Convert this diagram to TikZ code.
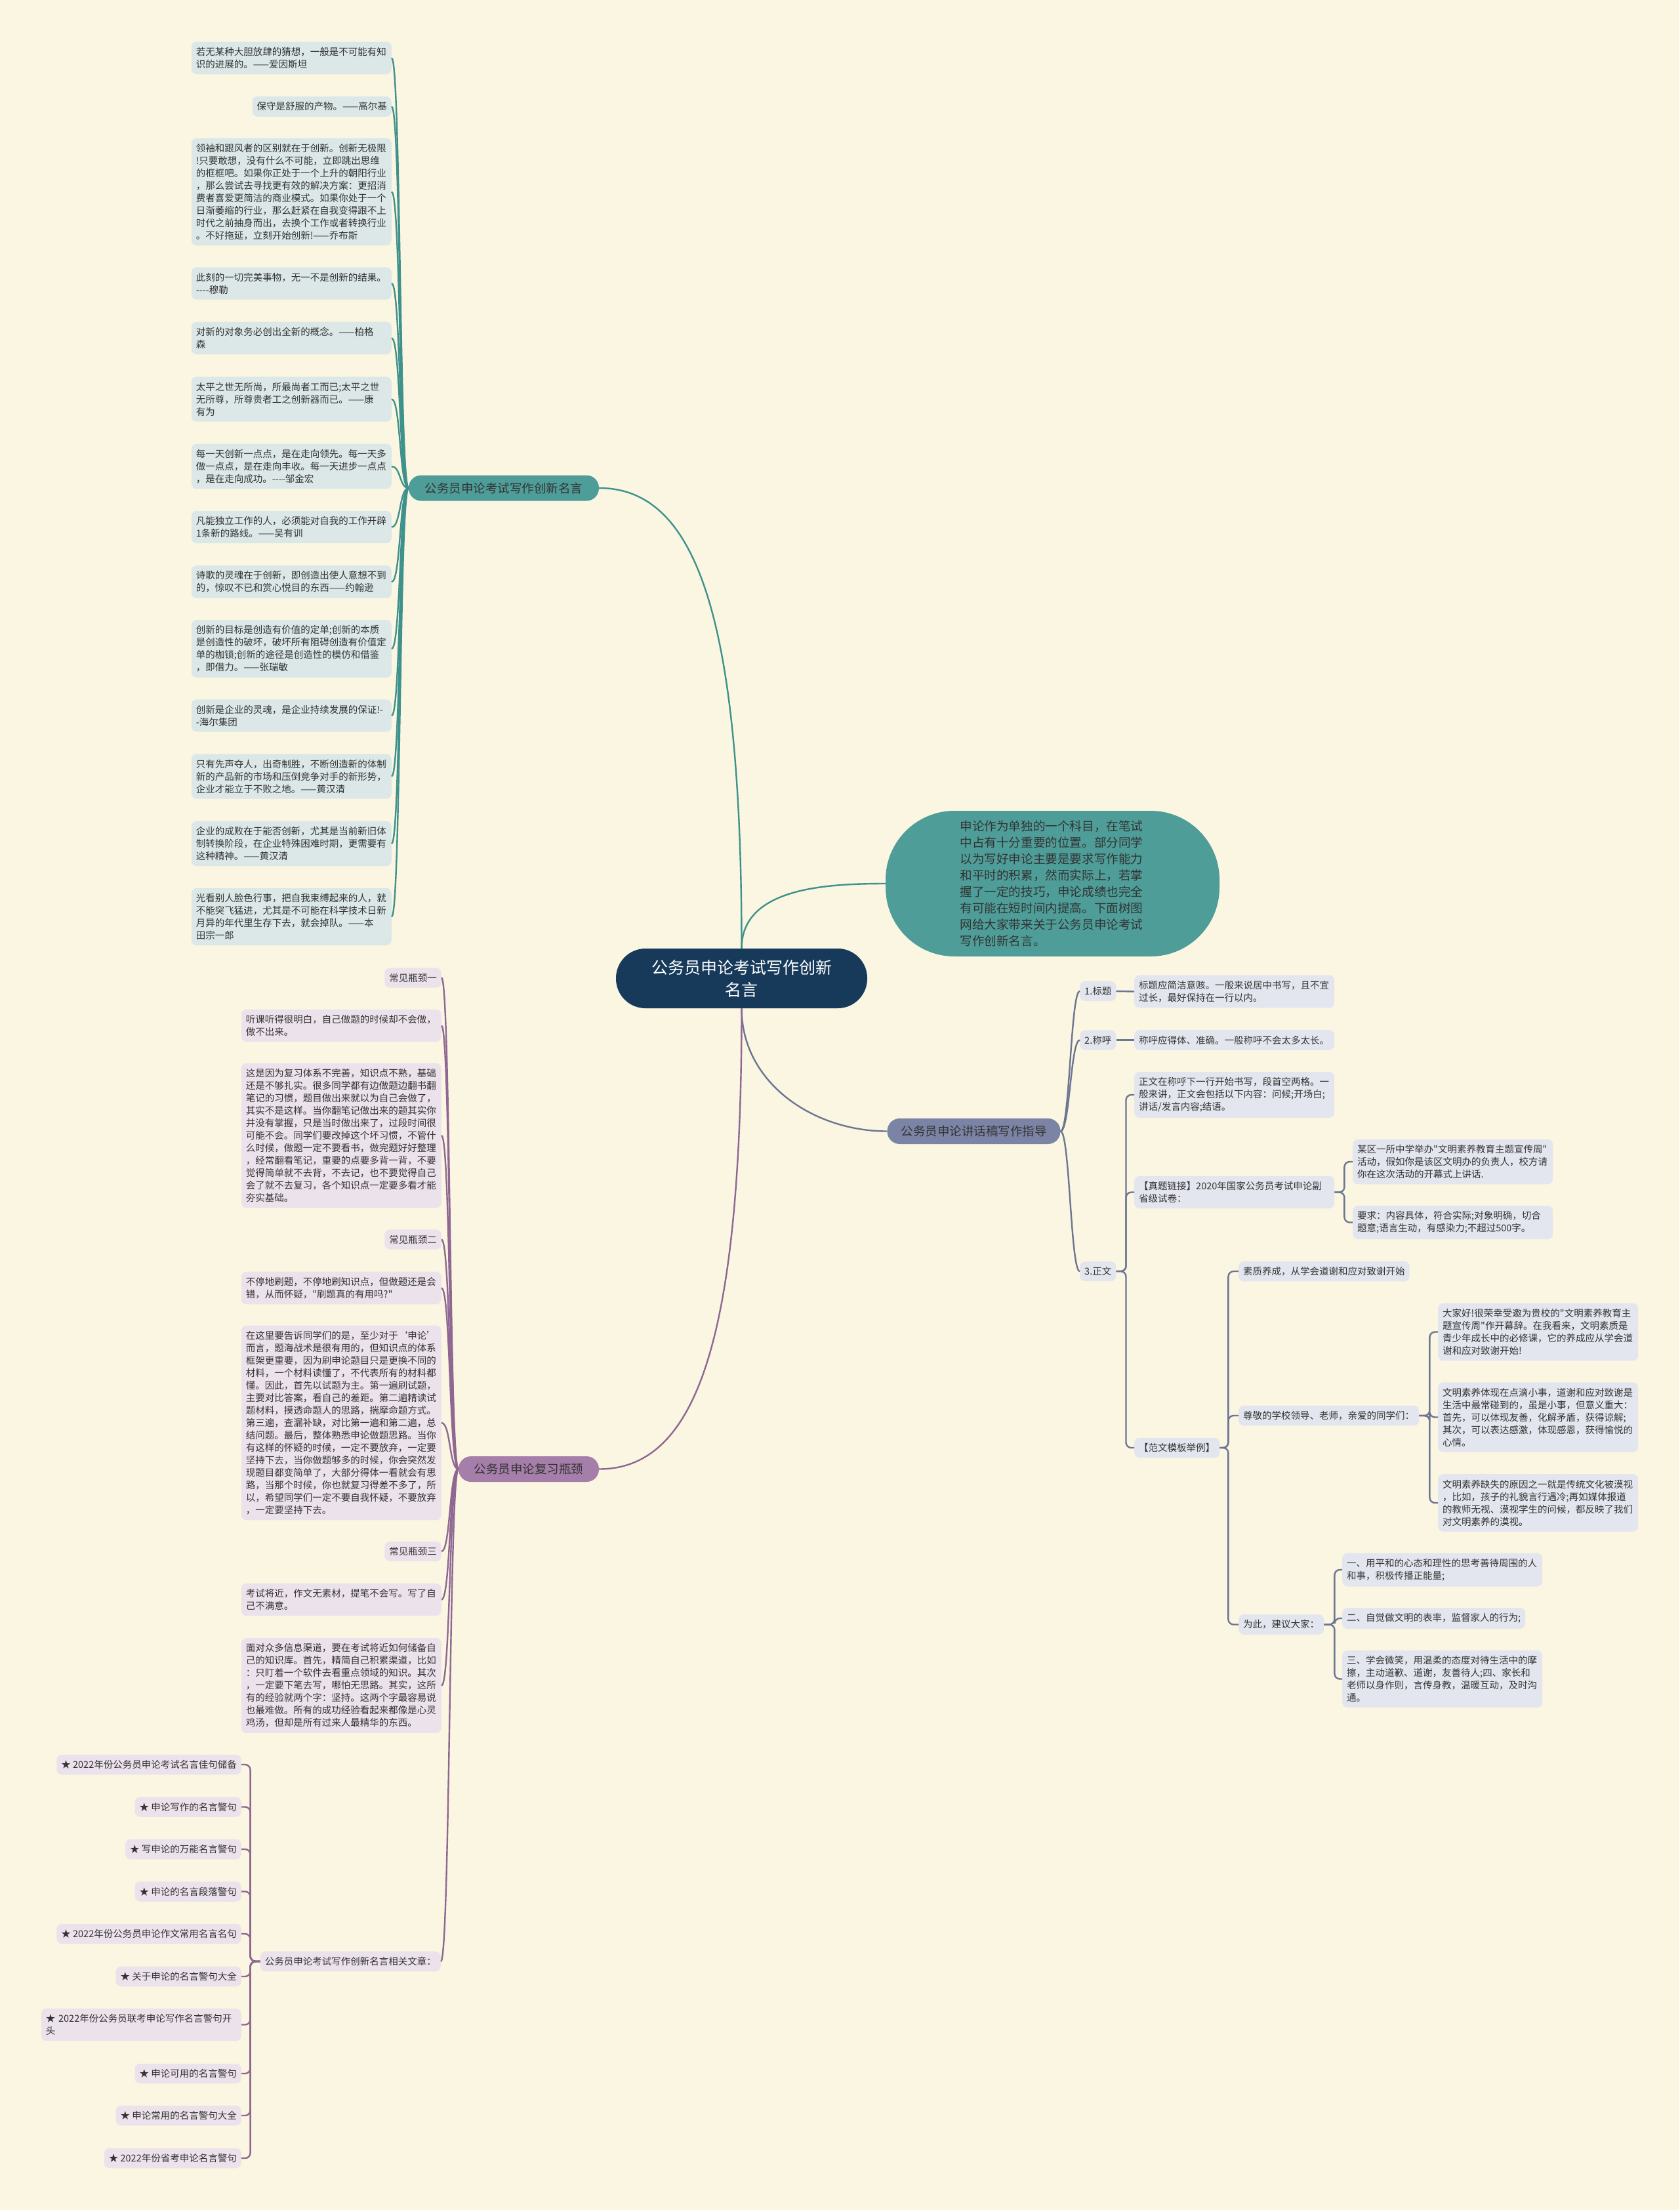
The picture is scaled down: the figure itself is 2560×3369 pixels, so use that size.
\documentclass[tikz,border=0pt]{standalone}
\usepackage{fontspec}
\newfontfamily\mapfont{Noto Sans CJK SC}
\usepackage{tikz}
\definecolor{mapbg}{HTML}{FBF6E1}
\definecolor{mapnavy}{HTML}{173A5B}
\definecolor{mapteal}{HTML}{4E9D98}
\definecolor{maptealline}{HTML}{3F918C}
\definecolor{maptealpale}{HTML}{DCE8E8}
\definecolor{mapslate}{HTML}{7B84A5}
\definecolor{mapslateline}{HTML}{6C7592}
\definecolor{mapslatepale}{HTML}{E3E6EE}
\definecolor{mapplum}{HTML}{A67EAA}
\definecolor{mapplumline}{HTML}{8E6893}
\definecolor{mapplumpale}{HTML}{ECE2EC}
\definecolor{mapink}{HTML}{333333}
\newcommand{\leaffont}{\mapfont\fontsize{14.5}{19}\selectfont}

\begin{document}
\begin{tikzpicture}[x=1pt,y=-1pt,
  leaf/.style={rounded corners=8pt,inner xsep=7pt,inner ysep=8.5pt,align=left,font=\leaffont,text=mapink},
  wide/.style={text width=291pt},
  tleaf/.style={leaf,fill=maptealpale,anchor=east},
  pleaf/.style={leaf,fill=mapplumpale,anchor=east},
  sleaf/.style={leaf,fill=mapslatepale,anchor=west},
  branch/.style={rounded corners=19pt,minimum height=39pt,font=\mapfont\fontsize{18.5}{22}\selectfont,text=mapink},
  tline/.style={draw=maptealline,line width=2.4pt},
  pline/.style={draw=mapplumline,line width=2.4pt},
  sline/.style={draw=mapslateline,line width=2.4pt},
  elbow/.style={sline,rounded corners=8pt}
]
\fill[mapbg] (0,0) rectangle (2560,3369);
\useasboundingbox (0,0) rectangle (2560,3369);

\node[fill=mapnavy,text=white,rounded corners=45pt,minimum width=383pt,minimum height=91pt,align=center,font=\mapfont\fontsize{25}{34}\selectfont] (root) at (1130.5,1491.5) {公务员申论考试写作创新\\名言};
\node[fill=mapteal,rounded corners=105pt,minimum width=509pt,minimum height=222pt,text width=282pt,align=left,font=\mapfont\fontsize{18.6}{25}\selectfont,text=mapink] (intro) at (1604.5,1347) {申论作为单独的一个科目，在笔试\\中占有十分重要的位置。部分同学\\以为写好申论主要是要求写作能力\\和平时的积累，然而实际上，若掌\\握了一定的技巧，申论成绩也完全\\有可能在短时间内提高。下面树图\\网给大家带来关于公务员申论考试\\写作创新名言。};
\node[branch,fill=mapteal,minimum width=290pt] (quote) at (768,744) {公务员申论考试写作创新名言};
\node[branch,fill=mapslate,minimum width=264pt] (speech) at (1484.5,1724.5) {公务员申论讲话稿写作指导};
\node[branch,fill=mapplum,minimum width=214pt] (review) at (806,2239.5) {公务员申论复习瓶颈};

\draw[tline] (root.north) .. controls +(0,-500) and +(150,0) .. (quote.east);
\draw[tline] (root.north) .. controls +(0,-92) and +(-92,0) .. (intro.west);
\draw[sline] (root.south) .. controls +(0,113) and +(-113,0) .. (speech.west);
\draw[pline] (root.south) .. controls +(0,500) and +(150,0) .. (review.east);

\node[tleaf,wide] (q1) at (597,88.5) {若无某种大胆放肆的猜想，一般是不可能有知\\识的进展的。——爱因斯坦};
\node[tleaf] (q2) at (597,162.5) {保守是舒服的产物。——高尔基};
\node[tleaf,wide] (q3) at (597,292.5) {领袖和跟风者的区别就在于创新。创新无极限\\!只要敢想，没有什么不可能，立即跳出思维\\的框框吧。如果你正处于一个上升的朝阳行业\\，那么尝试去寻找更有效的解决方案：更招消\\费者喜爱更简洁的商业模式。如果你处于一个\\日渐萎缩的行业，那么赶紧在自我变得跟不上\\时代之前抽身而出，去换个工作或者转换行业\\。不好拖延，立刻开始创新!——乔布斯};
\node[tleaf,wide] (q4) at (597,432) {此刻的一切完美事物，无一不是创新的结果。\\----穆勒};
\node[tleaf,wide] (q5) at (597,515.5) {对新的对象务必创出全新的概念。——柏格\\森};
\node[tleaf,wide] (q6) at (597,608.5) {太平之世无所尚，所最尚者工而已;太平之世\\无所尊，所尊贵者工之创新器而已。——康\\有为};
\node[tleaf,wide] (q7) at (597,711) {每一天创新一点点，是在走向领先。每一天多\\做一点点，是在走向丰收。每一天进步一点点\\，是在走向成功。----邹金宏};
\node[tleaf,wide] (q8) at (597,803.5) {凡能独立工作的人，必须能对自我的工作开辟\\1条新的路线。——吴有训};
\node[tleaf,wide] (q9) at (597,887) {诗歌的灵魂在于创新，即创造出使人意想不到\\的，惊叹不已和赏心悦目的东西——约翰逊};
\node[tleaf,wide] (q10) at (597,989) {创新的目标是创造有价值的定单;创新的本质\\是创造性的破坏，破坏所有阻碍创造有价值定\\单的枷锁;创新的途径是创造性的模仿和借鉴\\，即借力。——张瑞敏};
\node[tleaf,wide] (q11) at (597,1091) {创新是企业的灵魂，是企业持续发展的保证!-\\-海尔集团};
\node[tleaf,wide] (q12) at (597,1183.5) {只有先声夺人，出奇制胜，不断创造新的体制\\新的产品新的市场和压倒竞争对手的新形势，\\企业才能立于不败之地。——黄汉清};
\node[tleaf,wide] (q13) at (597,1286) {企业的成败在于能否创新，尤其是当前新旧体\\制转换阶段，在企业特殊困难时期，更需要有\\这种精神。——黄汉清};
\node[tleaf,wide] (q14) at (597,1397.5) {光看别人脸色行事，把自我束缚起来的人，就\\不能突飞猛进，尤其是不可能在科学技术日新\\月异的年代里生存下去，就会掉队。——本\\田宗一郎};

\draw[tline] (quote.west) .. controls +(-14,0) and +(14,0) .. (q1.east);
\draw[tline] (quote.west) .. controls +(-14,0) and +(14,0) .. (q2.east);
\draw[tline] (quote.west) .. controls +(-14,0) and +(14,0) .. (q3.east);
\draw[tline] (quote.west) .. controls +(-14,0) and +(14,0) .. (q4.east);
\draw[tline] (quote.west) .. controls +(-14,0) and +(14,0) .. (q5.east);
\draw[tline] (quote.west) .. controls +(-14,0) and +(14,0) .. (q6.east);
\draw[tline] (quote.west) .. controls +(-14,0) and +(14,0) .. (q7.east);
\draw[tline] (quote.west) .. controls +(-14,0) and +(14,0) .. (q8.east);
\draw[tline] (quote.west) .. controls +(-14,0) and +(14,0) .. (q9.east);
\draw[tline] (quote.west) .. controls +(-14,0) and +(14,0) .. (q10.east);
\draw[tline] (quote.west) .. controls +(-14,0) and +(14,0) .. (q11.east);
\draw[tline] (quote.west) .. controls +(-14,0) and +(14,0) .. (q12.east);
\draw[tline] (quote.west) .. controls +(-14,0) and +(14,0) .. (q13.east);
\draw[tline] (quote.west) .. controls +(-14,0) and +(14,0) .. (q14.east);

\node[sleaf] (s1) at (1646,1511) {1.标题};
\node[sleaf,wide] (s1a) at (1729,1511.5) {标题应简洁意赅。一般来说居中书写，且不宜\\过长，最好保持在一行以内。};
\node[sleaf] (s2) at (1646,1585.5) {2.称呼};
\node[sleaf,wide] (s2a) at (1729,1585.5) {称呼应得体、准确。一般称呼不会太多太长。};
\node[sleaf] (s3) at (1646,1938) {3.正文};
\node[sleaf,wide] (z1) at (1729,1669) {正文在称呼下一行开始书写，段首空两格。一\\般来讲，正文会包括以下内容：问候;开场白;\\讲话/发言内容;结语。};
\node[sleaf,wide] (z2) at (1729,1817.5) {【真题链接】2020年国家公务员考试申论副\\省级试卷：};
\node[sleaf,wide] (z2a) at (2062,1771) {某区一所中学举办"文明素养教育主题宣传周"\\活动，假如你是该区文明办的负责人，校方请\\你在这次活动的开幕式上讲话.};
\node[sleaf,wide] (z2b) at (2062,1863.5) {要求：内容具体，符合实际;对象明确，切合\\题意;语言生动，有感染力;不超过500字。};
\node[sleaf] (z3) at (1729,2207) {【范文模板举例】};
\node[sleaf] (f1) at (1888,1938) {素质养成，从学会道谢和应对致谢开始};
\node[sleaf] (f2) at (1888,2158) {尊敬的学校领导、老师，亲爱的同学们：};
\node[sleaf,wide] (g1) at (2192,2030.5) {大家好!很荣幸受邀为贵校的"文明素养教育主\\题宣传周"作开幕辞。在我看来，文明素质是\\青少年成长中的必修课，它的养成应从学会道\\谢和应对致谢开始!};
\node[sleaf,wide] (g2) at (2192,2160.5) {文明素养体现在点滴小事，道谢和应对致谢是\\生活中最常碰到的，虽是小事，但意义重大：\\首先，可以体现友善，化解矛盾，获得谅解;\\其次，可以表达感激，体现感恩，获得愉悦的\\心情。};
\node[sleaf,wide] (g3) at (2192,2291) {文明素养缺失的原因之一就是传统文化被漠视\\，比如，孩子的礼貌言行遇冷;再如媒体报道\\的教师无视、漠视学生的问候，都反映了我们\\对文明素养的漠视。};
\node[sleaf] (f3) at (1888,2476.5) {为此，建议大家：};
\node[sleaf,wide] (h1) at (2046,2393) {一、用平和的心态和理性的思考善待周围的人\\和事，积极传播正能量;};
\node[sleaf] (h2) at (2046,2467) {二、自觉做文明的表率，监督家人的行为;};
\node[sleaf,wide] (h3) at (2046,2559.5) {三、学会微笑，用温柔的态度对待生活中的摩\\擦，主动道歉、道谢，友善待人;四、家长和\\老师以身作则，言传身教，温暖互动，及时沟\\通。};

\draw[sline] (speech.east) .. controls +(14,0) and +(-14,0) .. (s1.west);
\draw[sline] (speech.east) .. controls +(14,0) and +(-14,0) .. (s2.west);
\draw[sline] (speech.east) .. controls +(14,0) and +(-14,0) .. (s3.west);
\draw[sline] (s1.east) -- (s1a.west);
\draw[sline] (s2.east) -- (s2a.west);
\draw[elbow] (s3.east) -- ++(15,0) |- (z1.west);
\draw[elbow] (s3.east) -- ++(15,0) |- (z2.west);
\draw[elbow] (s3.east) -- ++(15,0) |- (z3.west);
\draw[elbow] (z2.east) -- ++(15,0) |- (z2a.west);
\draw[elbow] (z2.east) -- ++(15,0) |- (z2b.west);
\draw[elbow] (z3.east) -- ++(13,0) |- (f1.west);
\draw[elbow] (z3.east) -- ++(13,0) |- (f2.west);
\draw[elbow] (z3.east) -- ++(13,0) |- (f3.west);
\draw[elbow] (f2.east) -- ++(16,0) |- (g1.west);
\draw[elbow] (f2.east) -- ++(16,0) |- (g2.west);
\draw[elbow] (f2.east) -- ++(16,0) |- (g3.west);
\draw[elbow] (f3.east) -- ++(16,0) |- (h1.west);
\draw[elbow] (f3.east) -- ++(16,0) |- (h2.west);
\draw[elbow] (f3.east) -- ++(16,0) |- (h3.west);

\node[pleaf] (p1) at (673,1490.5) {常见瓶颈一};
\node[pleaf,wide] (p2) at (673,1563.5) {听课听得很明白，自己做题的时候却不会做，\\做不出来。};
\node[pleaf,wide] (p3) at (673,1731) {这是因为复习体系不完善，知识点不熟，基础\\还是不够扎实。很多同学都有边做题边翻书翻\\笔记的习惯，题目做出来就以为自己会做了，\\其实不是这样。当你翻笔记做出来的题其实你\\并没有掌握，只是当时做出来了，过段时间很\\可能不会。同学们要改掉这个坏习惯，不管什\\么时候，做题一定不要看书，做完题好好整理\\，经常翻看笔记，重要的点要多背一背，不要\\觉得简单就不去背，不去记，也不要觉得自己\\会了就不去复习，各个知识点一定要多看才能\\夯实基础。};
\node[pleaf] (p4) at (673,1889.5) {常见瓶颈二};
\node[pleaf,wide] (p5) at (673,1963.5) {不停地刷题，不停地刷知识点，但做题还是会\\错，从而怀疑，"刷题真的有用吗?"};
\node[pleaf,wide] (p6) at (673,2169) {在这里要告诉同学们的是，至少对于‘申论’\\而言，题海战术是很有用的，但知识点的体系\\框架更重要，因为刷申论题目只是更换不同的\\材料，一个材料读懂了，不代表所有的材料都\\懂。因此，首先以试题为主。第一遍刷试题，\\主要对比答案，看自己的差距。第二遍精读试\\题材料，摸透命题人的思路，揣摩命题方式。\\第三遍，查漏补缺，对比第一遍和第二遍，总\\结问题。最后，整体熟悉申论做题思路。当你\\有这样的怀疑的时候，一定不要放弃，一定要\\坚持下去，当你做题够多的时候，你会突然发\\现题目都变简单了，大部分得体一看就会有思\\路，当那个时候，你也就复习得差不多了，所\\以，希望同学们一定不要自我怀疑，不要放弃\\，一定要坚持下去。};
\node[pleaf] (p7) at (673,2365) {常见瓶颈三};
\node[pleaf,wide] (p8) at (673,2438.5) {考试将近，作文无素材，提笔不会写。写了自\\己不满意。};
\node[pleaf,wide] (p9) at (673,2569.5) {面对众多信息渠道，要在考试将近如何储备自\\己的知识库。首先，精简自己积累渠道，比如\\：只盯着一个软件去看重点领域的知识。其次\\，一定要下笔去写，哪怕无思路。其实，这所\\有的经验就两个字：坚持。这两个字最容易说\\也最难做。所有的成功经验看起来都像是心灵\\鸡汤，但却是所有过来人最精华的东西。};
\node[pleaf] (rel) at (672,2990) {公务员申论考试写作创新名言相关文章：};
\node[pleaf] (a1) at (368,2690) {★ 2022年份公务员申论考试名言佳句储备};
\node[pleaf] (a2) at (368,2754.5) {★ 申论写作的名言警句};
\node[pleaf] (a3) at (368,2819) {★ 写申论的万能名言警句};
\node[pleaf] (a4) at (368,2883.5) {★ 申论的名言段落警句};
\node[pleaf] (a5) at (368,2948) {★ 2022年份公务员申论作文常用名言名句};
\node[pleaf] (a6) at (368,3013) {★ 关于申论的名言警句大全};
\node[pleaf,wide] (a7) at (368,3086.5) {★ 2022年份公务员联考申论写作名言警句开\\头};
\node[pleaf] (a8) at (368,3161) {★ 申论可用的名言警句};
\node[pleaf] (a9) at (368,3225) {★ 申论常用的名言警句大全};
\node[pleaf] (a10) at (368,3290) {★ 2022年份省考申论名言警句};

\draw[pline] (review.west) .. controls +(-14,0) and +(14,0) .. (p1.east);
\draw[pline] (review.west) .. controls +(-14,0) and +(14,0) .. (p2.east);
\draw[pline] (review.west) .. controls +(-14,0) and +(14,0) .. (p3.east);
\draw[pline] (review.west) .. controls +(-14,0) and +(14,0) .. (p4.east);
\draw[pline] (review.west) .. controls +(-14,0) and +(14,0) .. (p5.east);
\draw[pline] (review.west) .. controls +(-14,0) and +(14,0) .. (p6.east);
\draw[pline] (review.west) .. controls +(-14,0) and +(14,0) .. (p7.east);
\draw[pline] (review.west) .. controls +(-14,0) and +(14,0) .. (p8.east);
\draw[pline] (review.west) .. controls +(-14,0) and +(14,0) .. (p9.east);
\draw[pline] (review.west) .. controls +(-14,0) and +(14,0) .. (rel.east);
\draw[pline,rounded corners=8pt] (rel.west) -- ++(-15,0) |- (a1.east);
\draw[pline,rounded corners=8pt] (rel.west) -- ++(-15,0) |- (a2.east);
\draw[pline,rounded corners=8pt] (rel.west) -- ++(-15,0) |- (a3.east);
\draw[pline,rounded corners=8pt] (rel.west) -- ++(-15,0) |- (a4.east);
\draw[pline,rounded corners=8pt] (rel.west) -- ++(-15,0) |- (a5.east);
\draw[pline,rounded corners=8pt] (rel.west) -- ++(-15,0) |- (a6.east);
\draw[pline,rounded corners=8pt] (rel.west) -- ++(-15,0) |- (a7.east);
\draw[pline,rounded corners=8pt] (rel.west) -- ++(-15,0) |- (a8.east);
\draw[pline,rounded corners=8pt] (rel.west) -- ++(-15,0) |- (a9.east);
\draw[pline,rounded corners=8pt] (rel.west) -- ++(-15,0) |- (a10.east);
\end{tikzpicture}
\end{document}
